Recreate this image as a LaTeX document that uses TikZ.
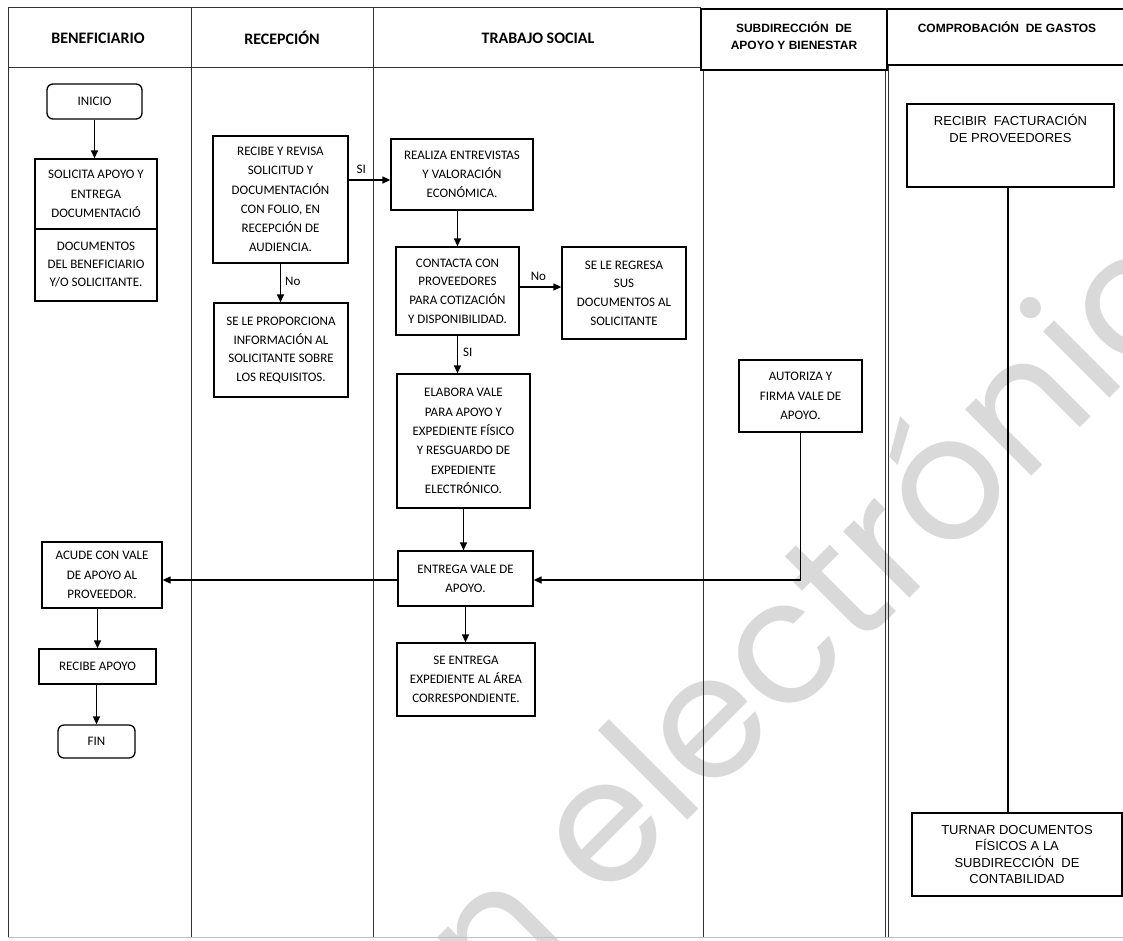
\documentclass[tikz,border=0pt]{standalone}
\usepackage{fontspec}
\setmainfont{Carlito}
\newfontfamily\arialf{Liberation Sans}
\newfontfamily\wmfont{Poppins}
\usetikzlibrary{arrows.meta}
\begin{document}
\begin{tikzpicture}[x=1pt,y=-1pt,
  box/.style={draw=black, line width=1.3pt, align=center, inner sep=0pt,
    font=\fontsize{13}{19.3}\selectfont},
  rbox/.style={box, rounded corners=6pt},
  abox/.style={draw=black, line width=1.4pt, align=center, inner sep=0pt,
    font=\arialf\fontsize{13}{16.5}\selectfont},
  atext/.style={align=center, inner sep=0pt, font=\arialf\fontsize{13}{17}\selectfont},
  lane/.style={draw=black!80, line width=1pt},
  hdr/.style={align=center, inner sep=0pt, font=\bfseries\fontsize{16}{18}\selectfont},
  ahdr/.style={align=center, inner sep=0pt, font=\arialf\bfseries\fontsize{12}{17}\selectfont},
  arr/.style={draw=black, line width=1.3pt, -{Triangle[length=8pt,width=7pt]}},
  conn/.style={draw=black, line width=1.3pt},
  lbl/.style={inner sep=0pt, font=\fontsize{13}{14}\selectfont},
  wm/.style={rotate=45, text=black!15, inner sep=0pt, font=\wmfont\fontsize{171}{171}\selectfont}
]
\useasboundingbox (0,0) rectangle (1123,940);
\clip (0,0) rectangle (1123,940);
\fill[white] (0,0) rectangle (1123,940);

% watermark
\node[wm, anchor=base west] (wm) at (603,905) {electrónico};
\node[wm, anchor=base east] (wmn) at (572,936) {n};

% lanes
\draw[lane] (8,7.5) -- (701,7.5);
\draw[lane] (8,67) -- (701,67);
\draw[lane] (8,7.5) -- (8,937);
\draw[lane] (191,7.5) -- (191,937);
\draw[lane] (373,7.5) -- (373,937);
\draw[lane] (703,70) -- (703,937);
\draw[lane] (885.5,70) -- (885.5,937);
\draw[lane] (888.5,65) -- (888.5,937);
\draw[draw=black!25, line width=1pt] (8,937.5) -- (1123,937.5);
\draw[draw=black, line width=2.5pt] (701,9) rectangle (887,70);
\draw[draw=black, line width=2.5pt] (887,9) rectangle (1135,65);

% headers
\node[hdr] (h1) at (98,38) {BENEFICIARIO};
\node[hdr] (h2) at (282,38) {RECEPCIÓN};
\node[hdr] (h3) at (538,38) {TRABAJO SOCIAL};
\node[ahdr] (h4) at (794,36) {SUBDIRECCIÓN\ \ DE\\APOYO\ Y BIENESTAR};
\node[ahdr] (h5) at (1007,27) {COMPROBACIÓN\ \ DE GASTOS};

% boxes
\node[rbox, minimum width=95, minimum height=35] (inicio) at (94.5,101.5) {INICIO};
\node[box, minimum width=122, minimum height=70] (solicita) at (96,194) {SOLICITA APOYO Y\\ENTREGA\\DOCUMENTACIÓ};
\node[box, minimum width=122, minimum height=72, font=\fontsize{13}{18}\selectfont] (documentos) at (96,265) {DOCUMENTOS\\DEL BENEFICIARIO\\Y/O SOLICITANTE.};
\node[box, minimum width=135, minimum height=127] (recibe) at (280.5,199.5) {RECIBE Y REVISA\\SOLICITUD Y\\DOCUMENTACIÓN\\CON FOLIO, EN\\RECEPCIÓN DE\\AUDIENCIA.};
\node[box, minimum width=134, minimum height=94, font=\fontsize{13}{18.7}\selectfont] (proporciona) at (281,350) {SE LE PROPORCIONA\\INFORMACIÓN AL\\SOLICITANTE SOBRE\\LOS REQUISITOS.};
\node[box, minimum width=142, minimum height=71] (realiza) at (462,174.5) {REALIZA ENTREVISTAS\\Y VALORACIÓN\\ECONÓMICA.};
\node[box, minimum width=123, minimum height=88, font=\fontsize{13}{18.7}\selectfont] (contacta) at (457.5,291) {CONTACTA CON\\PROVEEDORES\\PARA COTIZACIÓN\\Y DISPONIBILIDAD.};
\node[box, minimum width=124, minimum height=92, font=\fontsize{13}{18.7}\selectfont] (regresa) at (624,293) {SE LE REGRESA\\SUS\\DOCUMENTOS AL\\SOLICITANTE};
\node[box, minimum width=133, minimum height=134] (elabora) at (463.5,441) {ELABORA VALE\\PARA APOYO Y\\EXPEDIENTE FÍSICO\\Y RESGUARDO DE\\EXPEDIENTE\\ELECTRÓNICO.};
\node[box, minimum width=135, minimum height=55] (entrega) at (465.5,578.5) {ENTREGA VALE DE\\APOYO.};
\node[box, minimum width=120, minimum height=66] (acude) at (102,575) {ACUDE CON VALE\\DE APOYO AL\\PROVEEDOR.};
\node[box, minimum width=123, minimum height=72] (autoriza) at (800.5,396) {AUTORIZA Y\\FIRMA VALE DE\\APOYO.};
\node[box, minimum width=117, minimum height=35] (recapoyo) at (97.5,666.5) {RECIBE APOYO};
\node[rbox, minimum width=77, minimum height=33] (fin) at (96.5,741.5) {FIN};
\node[box, minimum width=138, minimum height=73, font=\fontsize{13}{18.7}\selectfont] (seentrega) at (466,679.5) {SE ENTREGA\\EXPEDIENTE AL ÁREA\\CORRESPONDIENTE.};
\node[abox, minimum width=207, minimum height=83] (recibir) at (1010.5,145.5) {};
\node[atext, anchor=north] (recibirtxt) at (1010.5,114) {RECIBIR\ \ FACTURACIÓN\\DE PROVEEDORES};
\node[abox, minimum width=210, minimum height=83, font=\arialf\fontsize{13}{16.2}\selectfont] (turnar) at (1017,854.5) {TURNAR DOCUMENTOS\\FÍSICOS A LA\\SUBDIRECCIÓN\ \ DE\\CONTABILIDAD};

% connectors
\draw[arr] (inicio) -- (inicio |- solicita.north);
\draw[arr] (recibe.east |- 0,180) -- (realiza.west |- 0,180)
  node[lbl, pos=0.3, above=6pt] (lsi1) {SI};
\draw[arr] (recibe.south) -- (recibe.south |- proporciona.north)
  node[lbl, pos=0.45, right=4pt] (lno1) {No};
\draw[arr] (contacta.north |- realiza.south) -- (contacta.north);
\draw[arr] (contacta.east |- 0,287) -- (regresa.west |- 0,287)
  node[lbl, pos=0.45, above=6pt] (lno2) {No};
\draw[arr] (contacta.south) -- (contacta.south |- elabora.north)
  node[lbl, pos=0.45, right=5pt] (lsi2) {SI};
\draw[arr] (elabora.south) -- (elabora.south |- entrega.north);
\draw[arr] (entrega.west |- 0,580) -- (acude.east |- 0,580);
\draw[arr] (autoriza.south) |- (entrega.east |- 0,580);
\draw[arr] (acude.south -| recapoyo.north) -- (recapoyo.north);
\draw[arr] (recapoyo.south -| fin.north) -- (fin.north);
\draw[arr] (entrega.south) -- (entrega.south |- seentrega.north);
\draw[conn] (1008,0 |- recibir.south) -- (1008,0 |- turnar.north);
\end{tikzpicture}
\end{document}
